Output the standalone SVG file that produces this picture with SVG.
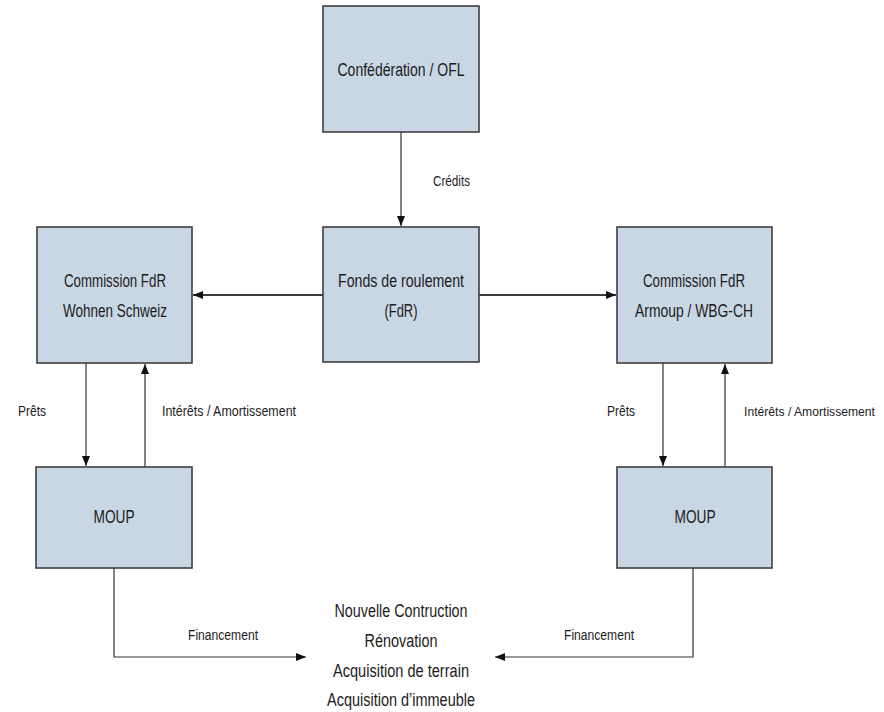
<svg xmlns="http://www.w3.org/2000/svg" width="884" height="712" viewBox="0 0 884 712">
<style>
.box{fill:#c9d6e4;stroke:#3f3f3f;stroke-width:1.6}
.t{font-family:"Liberation Sans",Arial,sans-serif;font-size:18px;fill:#1c1c1c;text-anchor:middle}
.l{font-family:"Liberation Sans",Arial,sans-serif;font-size:14px;fill:#1c1c1c}
.c{fill:none;stroke:#333;stroke-width:1.2}
.h{fill:none;stroke:#3a3a3a;stroke-width:2}
</style>
<defs>
<marker id="a" viewBox="0 0 10 10" refX="10" refY="5" markerWidth="10" markerHeight="10" markerUnits="userSpaceOnUse" orient="auto">
<path d="M0,1 L10,5 L0,9 Z" fill="#111"/>
</marker>
</defs>
<rect width="884" height="712" fill="#fff"/>
<g id="confed"><rect class="box" x="323" y="6" width="156" height="126"/><text class="t" x="401" y="76" textLength="127" lengthAdjust="spacingAndGlyphs">Confédération / OFL</text></g>
<g id="fdr"><rect class="box" x="323" y="227" width="156" height="135"/><text class="t" x="401" y="287" textLength="126" lengthAdjust="spacingAndGlyphs">Fonds de roulement</text><text class="t" x="401" y="317" textLength="33" lengthAdjust="spacingAndGlyphs">(FdR)</text></g>
<g id="wohnen"><rect class="box" x="37" y="227" width="155" height="136"/><text class="t" x="115" y="287" textLength="102" lengthAdjust="spacingAndGlyphs">Commission FdR</text><text class="t" x="115" y="317" textLength="104" lengthAdjust="spacingAndGlyphs">Wohnen Schweiz</text></g>
<g id="armoup"><rect class="box" x="617" y="227" width="155" height="136"/><text class="t" x="694" y="287" textLength="102" lengthAdjust="spacingAndGlyphs">Commission FdR</text><text class="t" x="694" y="317" textLength="118" lengthAdjust="spacingAndGlyphs">Armoup / WBG-CH</text></g>
<g id="moup-left"><rect class="box" x="36" y="467" width="156" height="101"/><text class="t" x="114" y="523" textLength="41" lengthAdjust="spacingAndGlyphs">MOUP</text></g>
<g id="moup-right"><rect class="box" x="617" y="467" width="155" height="101"/><text class="t" x="695" y="523" textLength="41" lengthAdjust="spacingAndGlyphs">MOUP</text></g>
<g id="targets"><text class="t" x="401" y="617" textLength="133" lengthAdjust="spacingAndGlyphs">Nouvelle Contruction</text><text class="t" x="401" y="647" textLength="73" lengthAdjust="spacingAndGlyphs">Rénovation</text><text class="t" x="401" y="677" textLength="136" lengthAdjust="spacingAndGlyphs">Acquisition de terrain</text><text class="t" x="401" y="706" textLength="148" lengthAdjust="spacingAndGlyphs">Acquisition d’immeuble</text></g>
<g id="connectors">
<path class="c" d="M401,132 V226" marker-end="url(#a)"/>
<path class="h" d="M323,295 H193" marker-end="url(#a)"/>
<path class="h" d="M479,295 H616" marker-end="url(#a)"/>
<path class="c" d="M86,363 V466" marker-end="url(#a)"/>
<path class="c" d="M145,467 V364" marker-end="url(#a)"/>
<path class="c" d="M663,363 V466" marker-end="url(#a)"/>
<path class="c" d="M725,467 V364" marker-end="url(#a)"/>
<path class="c" d="M114,568 V657 H306" marker-end="url(#a)"/>
<path class="c" d="M693,568 V657 H495" marker-end="url(#a)"/>
<text class="l" x="433" y="186" textLength="37" lengthAdjust="spacingAndGlyphs">Crédits</text>
<text class="l" x="18" y="416" textLength="28" lengthAdjust="spacingAndGlyphs">Prêts</text>
<text class="l" x="162" y="416" textLength="134" lengthAdjust="spacingAndGlyphs">Intérêts / Amortissement</text>
<text class="l" x="607" y="416" textLength="28" lengthAdjust="spacingAndGlyphs">Prêts</text>
<text class="l" x="744" y="416" style="font-size:12.5px" textLength="131" lengthAdjust="spacingAndGlyphs">Intérêts / Amortissement</text>
<text class="l" x="188" y="640" textLength="70" lengthAdjust="spacingAndGlyphs">Financement</text>
<text class="l" x="564" y="640" textLength="70" lengthAdjust="spacingAndGlyphs">Financement</text>
</g>
</svg>
